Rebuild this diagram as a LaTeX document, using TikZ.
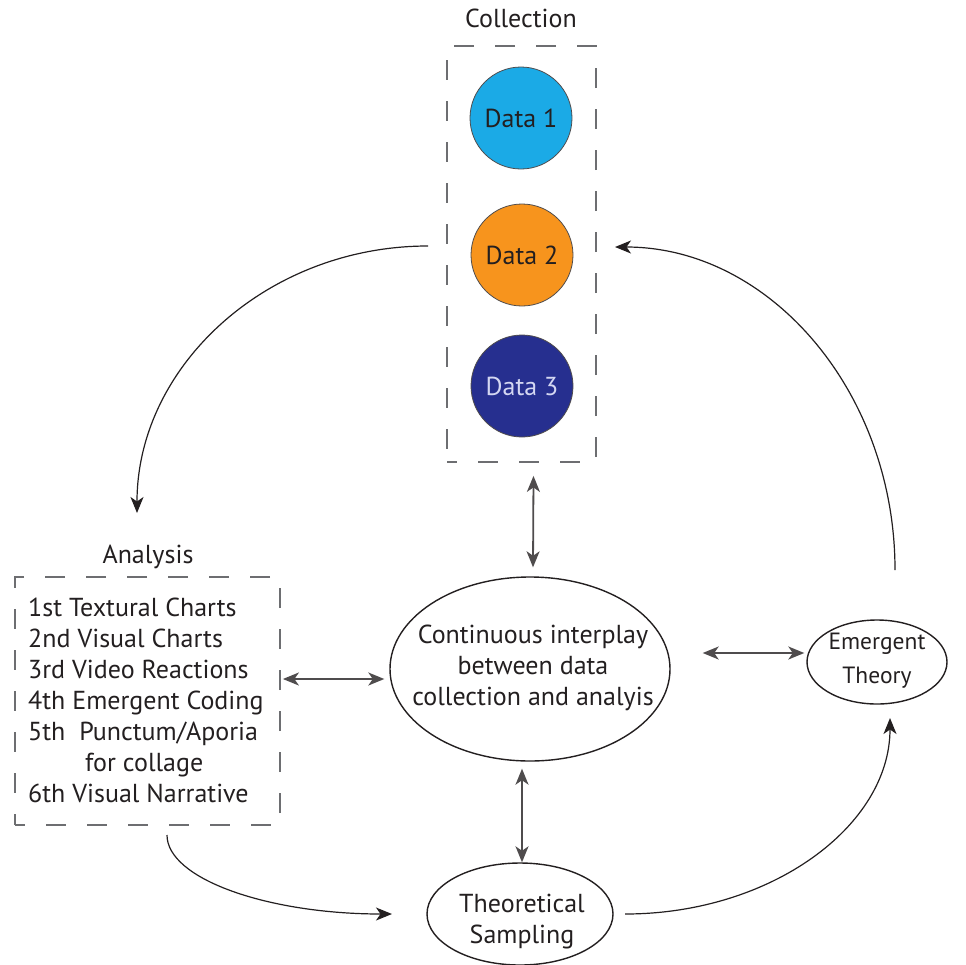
\documentclass[tikz,border=0pt]{standalone}
\usepackage{fontspec}
\setmainfont{PT Sans}
\usetikzlibrary{arrows.meta,shapes.geometric,calc}
\definecolor{dcyan}{HTML}{1BAAE6}
\definecolor{dorange}{HTML}{F7941D}
\definecolor{dnavy}{HTML}{262F8F}
\definecolor{dtxtlight}{HTML}{D4D7F2}
\definecolor{txt}{HTML}{231F20}
\definecolor{boxgray}{HTML}{6D6E71}
\begin{document}
\begin{tikzpicture}[x=1pt,y=-1pt,
  every node/.style={text=txt,inner sep=0pt,font=\fontsize{26}{31}\selectfont},
  ell/.style={ellipse,draw=txt,line width=1.4pt},
  datac/.style={circle,draw=txt!80,line width=0.8pt,minimum size=102pt},
  dashbox/.style={rectangle,draw=boxgray,line width=1.8pt,dash pattern=on 20pt off 21pt,dash phase=10pt},
  arr/.style={-{Stealth[length=16pt,width=13pt,inset=4.5pt]},line width=1.2pt,draw=txt},
  dbl/.style={{Stealth[length=16pt,width=13pt,inset=4.5pt]}-{Stealth[length=16pt,width=13pt,inset=4.5pt]},line width=1.8pt,draw=txt!80}
]
\useasboundingbox (0,0) rectangle (966,964);

% Collection
\node (collabel) at (521,18) {Collection};
\node[dashbox,minimum width=149pt,minimum height=416pt] (colbox) at (521.5,254) {};
\node[datac,fill=dcyan] (d1) at (521,118) {Data 1};
\node[datac,fill=dorange] (d2) at (522,255) {Data 2};
\node[datac,fill=dnavy,text=dtxtlight] (d3) at (522,386) {Data 3};

% Analysis
\node (anlabel) at (148,557) {Analysis};
\node[dashbox,minimum width=265pt,minimum height=248pt] (anbox) at (147.5,701) {};
\node[anchor=west,align=left] (antext) at (28,700) {1st Textural Charts\\2nd Visual Charts\\3rd Video Reactions\\4th Emergent Coding\\5th\ \ Punctum/Aporia\\\hspace*{57pt}for collage\\6th Visual Narrative};

% Central ellipse
\node[ell,minimum width=280pt,minimum height=184pt] (central) at (530,669) {};
\node[align=center] (centraltext) at (533,668) {Continuous interplay\\between data\\collection and analyis};

% Emergent theory
\node[ell,minimum width=140pt,minimum height=84pt] (emergent) at (877,662) {};
\node[align=center,font=\fontsize{23.5}{34}\selectfont] (emergenttext) at (877,661) {Emergent\\Theory};

% Theoretical sampling
\node[ell,minimum width=186pt,minimum height=102pt] (theo) at (520,914) {};
\node[align=center] (theotext) at (522,922) {Theoretical\\Sampling};

% Double arrows
\draw[dbl] ($(colbox.south)+(12,13)$) -- ($(central.north)+(3,-9)$);
\draw[dbl] ($(anbox.east)+(2,-22)$) -- ($(central.west)+(-5,10)$);
\draw[dbl] ($(central.east)+(32,-16)$) -- ($(emergent.west)+(-2,-9)$);
\draw[dbl] ($(central.south)+(-8,7)$) -- ($(theo.north)+(2,0)$);

% Curved arrows
\coordinate (c1s) at (428,246);
\coordinate (c1e) at (137,513);
\coordinate (c2s) at (895,570);
\coordinate (c2e) at (615,247);
\coordinate (c3s) at (167,835);
\coordinate (c3e) at (392,914);
\coordinate (c4s) at (625,914);
\coordinate (c4e) at (890,718);
\draw[arr] (c1s) .. controls (267,246) and (137,366) .. (c1e);
\draw[arr] (c2s) .. controls (895,392) and (770,247) .. (c2e);
\draw[arr] (c3s) .. controls (167,879) and (268,914) .. (c3e);
\draw[arr] (c4s) .. controls (771,914) and (890,826) .. (c4e);
\end{tikzpicture}
\end{document}
